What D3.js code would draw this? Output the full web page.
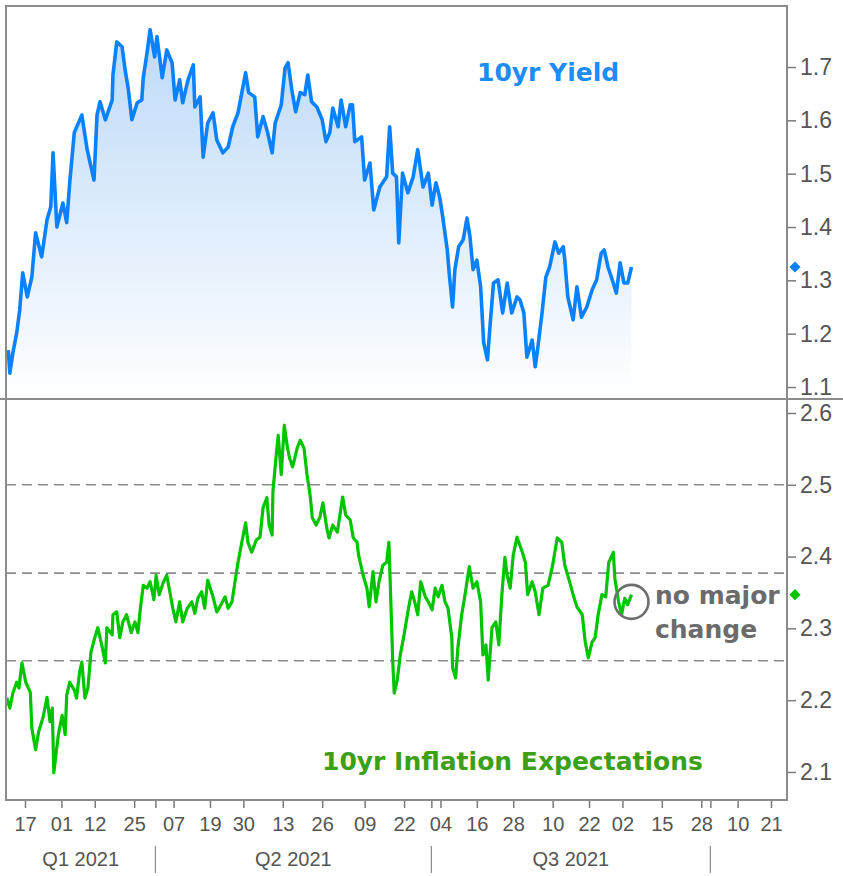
<!DOCTYPE html>
<html lang="en">
<head>
<meta charset="UTF-8">
<title>10yr Yield and Inflation Expectations</title>
<style>
body{margin:0;background:#fff}
svg{display:block}
</style>
</head>
<body>
<script src="https://cdn.jsdelivr.net/npm/d3@7"></script>
<script>
// values, dates are "MM-DD HH" in 2021
var yieldDates = [
"02-11 12","02-12 00","02-13 00","02-14 06","02-15 06","02-16 06","02-17 18","02-19 06","02-20 12","02-22 12",
"02-24 06","02-25 12","02-26 06","02-27 12","03-01 12","03-02 18","03-03 18","03-05 06","03-07 18","03-09 12",
"03-11 18","03-12 18","03-13 18","03-15 12","03-17 18","03-18 00","03-19 06","03-21 00","03-22 00","03-23 00",
"03-24 06","03-26 00","03-27 12","03-28 00","03-29 06","03-30 06","03-31 18","04-01 12","04-03 06","04-04 18",
"04-06 12","04-07 12","04-09 00","04-10 00","04-11 18","04-13 12","04-14 00","04-15 18","04-16 18","04-18 06",
"04-20 00","04-21 06","04-23 06","04-25 00","04-26 12","04-28 06","04-29 12","04-30 18","05-01 18","05-03 18",
"05-04 18","05-06 12","05-08 00","05-09 12","05-10 12","05-12 12","05-13 18","05-14 18","05-16 00","05-17 06",
"05-18 18","05-20 06","05-21 06","05-22 12","05-24 06","05-26 00","05-27 06","05-28 12","05-29 12","05-31 06",
"06-01 06","06-02 18","06-04 06","06-05 00","06-05 18","06-08 00","06-09 00","06-10 18","06-12 00","06-14 00",
"06-16 06","06-17 06","06-18 06","06-19 12","06-20 06","06-21 12","06-23 06","06-25 00","06-26 12","06-28 06",
"06-30 00","07-01 06","07-02 12","07-03 18","07-04 18","07-06 06","07-07 00","07-08 00","07-08 18","07-10 00",
"07-11 12","07-12 18","07-13 18","07-14 18","07-16 00","07-17 06","07-18 06","07-19 12","07-20 12","07-21 12",
"07-23 00","07-24 12","07-26 00","07-27 12","07-29 06","07-30 06","07-31 12","08-01 12","08-03 06","08-04 06",
"08-05 00","08-06 12","08-07 18","08-09 00","08-10 18","08-12 00","08-13 12","08-14 00","08-15 00","08-16 18",
"08-18 00","08-19 12","08-21 06","08-23 00","08-24 12","08-26 00","08-27 00","08-28 06","08-30 00","08-31 00",
"09-01 06","09-02 12","09-03 18","09-05 00"]
var yieldValues = [
1.169,1.126,1.164,1.201,1.244,1.314,1.269,1.306,1.389,1.344,
1.413,1.438,1.539,1.400,1.445,1.408,1.483,1.577,1.610,1.545,
1.488,1.610,1.635,1.601,1.638,1.685,1.747,1.738,1.695,1.661,
1.601,1.633,1.638,1.680,1.727,1.770,1.719,1.757,1.680,1.732,
1.708,1.638,1.676,1.633,1.676,1.704,1.625,1.644,1.531,1.595,
1.614,1.563,1.539,1.550,1.588,1.614,1.652,1.689,1.652,1.644,
1.569,1.607,1.577,1.539,1.595,1.629,1.698,1.708,1.657,1.616,
1.652,1.648,1.685,1.635,1.625,1.601,1.560,1.577,1.623,1.588,
1.638,1.588,1.629,1.629,1.560,1.569,1.488,1.520,1.432,1.475,
1.494,1.588,1.501,1.494,1.370,1.501,1.464,1.494,1.545,1.475,
1.501,1.441,1.483,1.456,1.419,1.357,1.306,1.250,1.320,1.363,
1.376,1.417,1.381,1.320,1.338,1.288,1.183,1.151,1.226,1.295,
1.301,1.239,1.295,1.239,1.269,1.263,1.239,1.156,1.188,1.138,
1.169,1.239,1.306,1.325,1.372,1.351,1.363,1.338,1.269,1.226,
1.288,1.231,1.250,1.282,1.301,1.351,1.357,1.325,1.295,1.276,
1.333,1.295,1.295,1.325]

var inflDates = [
"02-11 00","02-12 00","02-13 00","02-14 06","02-15 00","02-16 00","02-17 06","02-18 18","02-19 06","02-20 12",
"02-21 12","02-23 00","02-24 06","02-25 06","02-26 00","02-26 12","02-28 00","03-01 06","03-02 06","03-02 18",
"03-03 18","03-05 06","03-06 00","03-07 00","03-07 18","03-08 18","03-09 18","03-10 18","03-12 00","03-13 00",
"03-14 12","03-15 12","03-16 00","03-17 18","03-18 00","03-19 06","03-20 06","03-21 06","03-22 12","03-24 00",
"03-25 06","03-26 06","03-27 00","03-28 00","03-29 06","03-30 06","03-31 12","04-01 06","04-02 06","04-03 12",
"04-04 18","04-05 18","04-06 18","04-07 18","04-09 00","04-10 00","04-11 12","04-13 00","04-14 00","04-15 00",
"04-16 06","04-17 06","04-18 06","04-20 00","04-21 06","04-22 06","04-24 00","04-25 00","04-26 06","04-27 06",
"04-28 06","04-29 12","04-30 18","05-01 12","05-02 18","05-04 06","05-05 12","05-06 12","05-07 18","05-08 12",
"05-09 12","05-09 18","05-10 18","05-11 12","05-12 12","05-13 12","05-14 12","05-15 06","05-16 06","05-17 18",
"05-18 18","05-20 00","05-21 00","05-22 00","05-22 18","05-24 00","05-25 06","05-26 06","05-27 12","05-28 06",
"05-29 12","05-31 00","05-31 12","06-01 18","06-02 18","06-04 06","06-05 06","06-06 12","06-07 00","06-08 12",
"06-09 18","06-10 12","06-11 18","06-12 18","06-13 18","06-15 00","06-16 06","06-17 00","06-17 18","06-18 06",
"06-18 18","06-19 18","06-20 18","06-22 00","06-23 06","06-24 12","06-25 12","06-26 12","06-27 12","06-29 00",
"06-30 00","07-01 06","07-02 06","07-03 06","07-04 12","07-05 12","07-06 12","07-07 18","07-08 00","07-09 00",
"07-09 18","07-11 00","07-12 00","07-13 12","07-14 18","07-16 00","07-17 06","07-18 00","07-19 00","07-19 18",
"07-21 00","07-22 06","07-23 06","07-24 06","07-25 06","07-26 00","07-27 00","07-28 00","07-29 06","07-31 00",
"08-01 00","08-01 18","08-03 06","08-04 06","08-05 12","08-06 18","08-08 12","08-10 00","08-11 12","08-13 00",
"08-14 00","08-15 06","08-16 18","08-18 00","08-19 18","08-20 18","08-21 18","08-23 00","08-24 00","08-25 00",
"08-26 06","08-27 12","08-28 12","08-30 00","08-30 12","08-31 18","09-01 18","09-02 18","09-03 18","09-05 00"]
var inflValues = [
2.203,2.189,2.210,2.225,2.217,2.252,2.225,2.211,2.161,2.131,
2.156,2.177,2.204,2.170,2.189,2.099,2.152,2.179,2.152,2.207,
2.225,2.214,2.203,2.239,2.253,2.203,2.217,2.267,2.287,2.301,
2.273,2.252,2.301,2.291,2.319,2.323,2.287,2.309,2.319,2.294,
2.309,2.294,2.326,2.360,2.356,2.365,2.340,2.374,2.347,2.363,
2.374,2.351,2.328,2.309,2.337,2.309,2.328,2.337,2.321,2.342,
2.351,2.328,2.367,2.344,2.323,2.330,2.344,2.328,2.337,2.365,
2.392,2.420,2.447,2.420,2.406,2.423,2.427,2.468,2.482,2.444,
2.430,2.490,2.537,2.569,2.514,2.583,2.553,2.537,2.525,2.551,
2.562,2.551,2.514,2.486,2.454,2.444,2.455,2.475,2.440,2.426,
2.444,2.434,2.448,2.483,2.458,2.451,2.426,2.420,2.402,2.374,
2.356,2.330,2.379,2.337,2.365,2.388,2.392,2.420,2.323,2.256,
2.210,2.228,2.263,2.291,2.323,2.351,2.337,2.319,2.365,2.344,
2.337,2.326,2.356,2.344,2.360,2.337,2.328,2.287,2.245,2.231,
2.273,2.319,2.344,2.386,2.356,2.365,2.337,2.263,2.277,2.228,
2.301,2.309,2.277,2.347,2.399,2.374,2.356,2.402,2.427,2.406,
2.392,2.347,2.365,2.351,2.319,2.356,2.360,2.388,2.426,2.420,
2.388,2.370,2.347,2.330,2.319,2.281,2.259,2.281,2.287,2.319,
2.347,2.344,2.392,2.406,2.370,2.337,2.319,2.342,2.333,2.347]

var yieldTicks = [1.1,1.2,1.3,1.4,1.5,1.6,1.7]
var inflTicks = [2.1,2.2,2.3,2.4,2.5,2.6]
var inflLevels = [2.5,2.377,2.255]
var dateTicks = ["02-17","03-01","03-12","03-25","04-07","04-19","04-30","05-13","05-26","06-09","06-22",
    "07-04","07-16","07-28","08-10","08-22","09-02","09-15","09-28","10-10","10-21"]
var quarterNames = ["Q1 2021","Q2 2021","Q3 2021"]
var quarterStarts = ["01-01","04-01","07-01","10-01"]
var noteAt = {date:"09-05 00", value:2.337}

var parse = d3.timeParse('%Y-%m-%d %H')
function toDate(s){ return parse('2021-' + (s.length == 5 ? s + ' 00' : s)) }

var yieldData = yieldDates.map(function(d,i){ return {date:toDate(d), v:yieldValues[i]} })
var inflData = inflDates.map(function(d,i){ return {date:toDate(d), v:inflValues[i]} })

// plot frame edges (window.top is taken, so no "top" here)
var fLeft = 6, fRight = 787, fTop = 6, fMid = 399, fBottom = 800

var x = d3.scaleTime().domain([toDate('02-17'), toDate('10-21')]).range([25, 771])
var yTop = d3.scaleLinear().domain([1.1, 1.7]).range([387, 67])
var yBot = d3.scaleLinear().domain([2.1, 2.6]).range([772, 413])

var svg = d3.select('body').append('svg').attr('width', 843).attr('height', 876)
var defs = svg.append('defs')
var grad = defs.append('linearGradient').attr('id', 'fillYield')
    .attr('gradientUnits', 'userSpaceOnUse').attr('x1', 0).attr('x2', 0).attr('y1', 25).attr('y2', fMid)
grad.append('stop').attr('offset', 0).attr('stop-color', '#bcd9f8')
grad.append('stop').attr('offset', 1).attr('stop-color', '#ffffff')
defs.append('clipPath').attr('id', 'clipTop').append('rect')
    .attr('x', fLeft).attr('y', fTop).attr('width', fRight - fLeft).attr('height', fMid - fTop)
defs.append('clipPath').attr('id', 'clipBot').append('rect')
    .attr('x', fLeft).attr('y', fMid).attr('width', fRight - fLeft).attr('height', fBottom - fMid)

// top panel: yield with shaded area
var gTop = svg.append('g').attr('clip-path', 'url(#clipTop)')
gTop.append('path').datum(yieldData)
    .attr('fill', 'url(#fillYield)')
    .attr('d', d3.area().x(d => x(d.date)).y0(fMid).y1(d => yTop(d.v)))
gTop.append('path').datum(yieldData)
    .attr('fill', 'none').attr('stroke', '#0a82ff').attr('stroke-width', 3.6).attr('stroke-linejoin', 'round')
    .attr('d', d3.line().x(d => x(d.date)).y(d => yTop(d.v)))

// bottom panel: reference levels + inflation expectations
var gBot = svg.append('g').attr('clip-path', 'url(#clipBot)')
gBot.selectAll('line.level').data(inflLevels).enter().append('line')
    .attr('x1', fLeft).attr('x2', fRight)
    .attr('y1', d => yBot(d)).attr('y2', d => yBot(d))
    .attr('stroke', '#8c8c8c').attr('stroke-width', 1.6).attr('stroke-dasharray', '10,6')
gBot.append('path').datum(inflData)
    .attr('fill', 'none').attr('stroke', '#00c400').attr('stroke-width', 3.2).attr('stroke-linejoin', 'round')
    .attr('d', d3.line().x(d => x(d.date)).y(d => yBot(d.v)))

// frame
svg.append('rect').attr('x', fLeft).attr('y', fTop).attr('width', fRight - fLeft).attr('height', fBottom - fTop)
    .attr('fill', 'none').attr('stroke', '#8c8c8c').attr('stroke-width', 2)
svg.append('line').attr('x1', 0).attr('x2', 843).attr('y1', fMid).attr('y2', fMid)
    .attr('stroke', '#8c8c8c').attr('stroke-width', 2)

// right axes
function styleAxis(g){
    g.select('.domain').remove()
    g.selectAll('.tick line').attr('stroke', '#7a7a7a').attr('stroke-width', 1.5)
    g.selectAll('.tick text').attr('fill', '#555').style('font-family', '"Liberation Sans", Arial, sans-serif')
}
svg.append('g').attr('transform', 'translate(' + fRight + ',0)')
    .call(d3.axisRight(yTop).tickValues(yieldTicks).tickSize(9).tickPadding(4).tickFormat(d3.format('.1f')))
    .call(styleAxis)
    .selectAll('text').style('font-size', '23px')
svg.append('g').attr('transform', 'translate(' + fRight + ',0)')
    .call(d3.axisRight(yBot).tickValues(inflTicks).tickSize(9).tickPadding(4).tickFormat(d3.format('.1f')))
    .call(styleAxis)
    .selectAll('text').style('font-size', '23px')

// last value markers
var lastY = yieldData[yieldData.length - 1], lastI = inflData[inflData.length - 1]
svg.append('path').attr('d', d3.symbol(d3.symbolSquare, 62)())
    .attr('transform', 'translate(795,' + yTop(lastY.v) + ') rotate(45)').attr('fill', '#0a82ff')
svg.append('path').attr('d', d3.symbol(d3.symbolSquare, 62)())
    .attr('transform', 'translate(795,' + yBot(lastI.v) + ') rotate(45)').attr('fill', '#00c400')

// bottom time axis
svg.append('g').attr('transform', 'translate(0,' + (fBottom + 1) + ')')
    .call(d3.axisBottom(x).tickValues(dateTicks.map(toDate)).tickSize(7).tickPadding(9).tickFormat(d3.timeFormat('%d')))
    .call(styleAxis)
    .selectAll('text').style('font-size', '20px')
svg.append('g').attr('transform', 'translate(0,' + (fBottom + 1) + ')')
    .call(d3.axisBottom(x).tickValues(quarterStarts.slice(1).map(toDate)).tickSize(7).tickFormat(''))
    .call(styleAxis)

// quarters
svg.selectAll('line.qsep').data(quarterStarts.slice(1)).enter().append('line')
    .attr('x1', d => x(toDate(d))).attr('x2', d => x(toDate(d)))
    .attr('y1', 846).attr('y2', 873)
    .attr('stroke', '#8c8c8c').attr('stroke-width', 1.2)
svg.selectAll('text.q').data(quarterNames).enter().append('text')
    .attr('x', (d, i) => (Math.max(fLeft, x(toDate(quarterStarts[i]))) + x(toDate(quarterStarts[i + 1]))) / 2)
    .attr('y', 866).attr('text-anchor', 'middle')
    .attr('fill', '#555').style('font-family', '"Liberation Sans", Arial, sans-serif').style('font-size', '20px')
    .text(d => d)

// labels
var bold = '"DejaVu Sans", Verdana, sans-serif'
svg.append('text').attr('x', 477).attr('y', 81).attr('fill', '#1e8cf5')
    .style('font-family', bold).style('font-weight', 'bold').style('font-size', '25px')
    .text('10yr Yield')
svg.append('text').attr('x', 322).attr('y', 770).attr('fill', '#3ba017')
    .style('font-family', bold).style('font-weight', 'bold').style('font-size', '25px')
    .text('10yr Inflation Expectations')

// "no major change" note
svg.append('circle').attr('cx', x(toDate(noteAt.date))).attr('cy', yBot(noteAt.value)).attr('r', 17)
    .attr('fill', 'none').attr('stroke', '#6e6e6e').attr('stroke-width', 2.6)
var note = svg.append('text').attr('fill', '#6b6b6b')
    .style('font-family', bold).style('font-weight', 'bold').style('font-size', '25px')
note.append('tspan').attr('x', 655).attr('y', 604).text('no major')
note.append('tspan').attr('x', 655).attr('y', 638).text('change')
</script>
</body>
</html>
